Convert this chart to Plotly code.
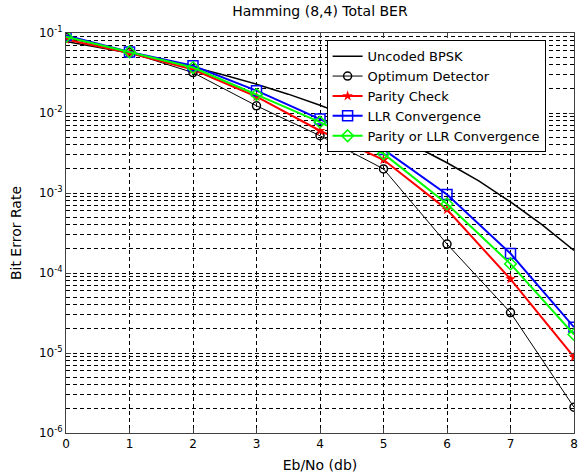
import plotly.graph_objects as go

ebno = [0, 1, 2, 3, 4, 5, 6, 7, 8]
ebno_fine = [0, 0.5, 1, 1.5, 2, 2.5, 3, 3.5, 4, 4.5, 5, 5.5, 6, 6.5, 7, 7.5, 8]

uncoded = [0.0786, 0.0671, 0.0563, 0.0464, 0.0375, 0.0296, 0.0229, 0.0172, 0.0125,
           0.00882, 0.00595, 0.00384, 0.00239, 0.00142, 0.000773, 0.000400, 0.000191]
optimum = [0.088, 0.057, 0.032, 0.0123, 0.0052, 0.0020, 2.3e-4, 3.2e-5, 2.1e-6]
parity = [0.083, 0.056, 0.035, 0.016, 0.0060, 0.0026, 6.2e-4, 8.4e-5, 8.9e-6]
llr = [0.093, 0.058, 0.039, 0.019, 0.0084, 0.0035, 9.6e-4, 1.75e-4, 2.1e-5]
parity_or_llr = [0.090, 0.058, 0.037, 0.017, 0.0077, 0.0031, 7.3e-4, 1.3e-4, 1.7e-5]

xticks = [0, 1, 2, 3, 4, 5, 6, 7, 8]
yticks = [1e-6, 1e-5, 1e-4, 1e-3, 1e-2, 1e-1]
ytick_labels = ["10<sup>-6</sup>", "10<sup>-5</sup>", "10<sup>-4</sup>",
                "10<sup>-3</sup>", "10<sup>-2</sup>", "10<sup>-1</sup>"]

FONT = "DejaVu Sans, Liberation Sans, Arial, sans-serif"
GRID_DASH = "4px,3px"

fig = go.Figure()
fig.add_trace(go.Scatter(x=ebno_fine, y=uncoded, mode="lines", name="Uncoded BPSK",
                         line=dict(color="black", width=1.5)))
fig.add_trace(go.Scatter(x=ebno, y=optimum, mode="lines+markers", name="Optimum Detector",
                         line=dict(color="black", width=1),
                         marker=dict(symbol="circle-open", size=8, color="black",
                                     line=dict(width=1.5))))
fig.add_trace(go.Scatter(x=ebno, y=parity, mode="lines+markers", name="Parity Check",
                         line=dict(color="#ff0000", width=2),
                         marker=dict(symbol="star", size=8, color="#ff0000")))
fig.add_trace(go.Scatter(x=ebno, y=llr, mode="lines+markers", name="LLR Convergence",
                         line=dict(color="#0000ff", width=2),
                         marker=dict(symbol="square-open", size=10, color="#0000ff",
                                     line=dict(width=1.5))))
fig.add_trace(go.Scatter(x=ebno, y=parity_or_llr, mode="lines+markers",
                         name="Parity or LLR Convergence",
                         line=dict(color="#00ff00", width=2),
                         marker=dict(symbol="diamond-open", size=9, color="#00ff00",
                                     line=dict(width=1.5))))

fig.update_layout(
    width=579, height=475,
    margin=dict(l=66, r=5, t=33, b=42),
    paper_bgcolor="white", plot_bgcolor="white",
    font=dict(family=FONT, size=12, color="black"),
    title=dict(text="Hamming (8,4) Total BER", x=0.5526, xanchor="center",
               y=0.988, yanchor="top", font=dict(size=14)),
    showlegend=True,
    legend=dict(x=0.513, y=0.982, xanchor="left", yanchor="top",
                bgcolor="white", bordercolor="black", borderwidth=1,
                font=dict(size=13), itemwidth=30, tracegroupgap=0),
)
fig.update_xaxes(
    range=[0, 8], tickvals=xticks, ticktext=[str(t) for t in xticks],
    automargin=False,
    showline=True, linecolor="#404040", linewidth=1, mirror="ticks",
    ticks="inside", ticklen=5, tickcolor="#404040",
    showgrid=True, gridcolor="black", griddash=GRID_DASH, gridwidth=0.7,
    zeroline=False,
    title=dict(text="Eb/No (db)", standoff=9, font=dict(size=14)),
)
fig.update_yaxes(
    type="log", range=[-6, -1], tickvals=yticks, ticktext=ytick_labels,
    automargin=False,
    showline=True, linecolor="#404040", linewidth=1, mirror="ticks",
    ticks="inside", ticklen=5, tickcolor="#404040",
    showgrid=True, gridcolor="black", griddash=GRID_DASH, gridwidth=0.7,
    minor=dict(dtick="D1", showgrid=True, gridcolor="black", griddash=GRID_DASH,
               gridwidth=0.7, ticks=""),
    zeroline=False,
    title=dict(text="Bit Error Rate", standoff=14, font=dict(size=14)),
)

fig.write_html(
    "out.html",
    config={"displayModeBar": False},
    post_script="document.body.style.margin='0';document.body.style.overflow='hidden';",
)
